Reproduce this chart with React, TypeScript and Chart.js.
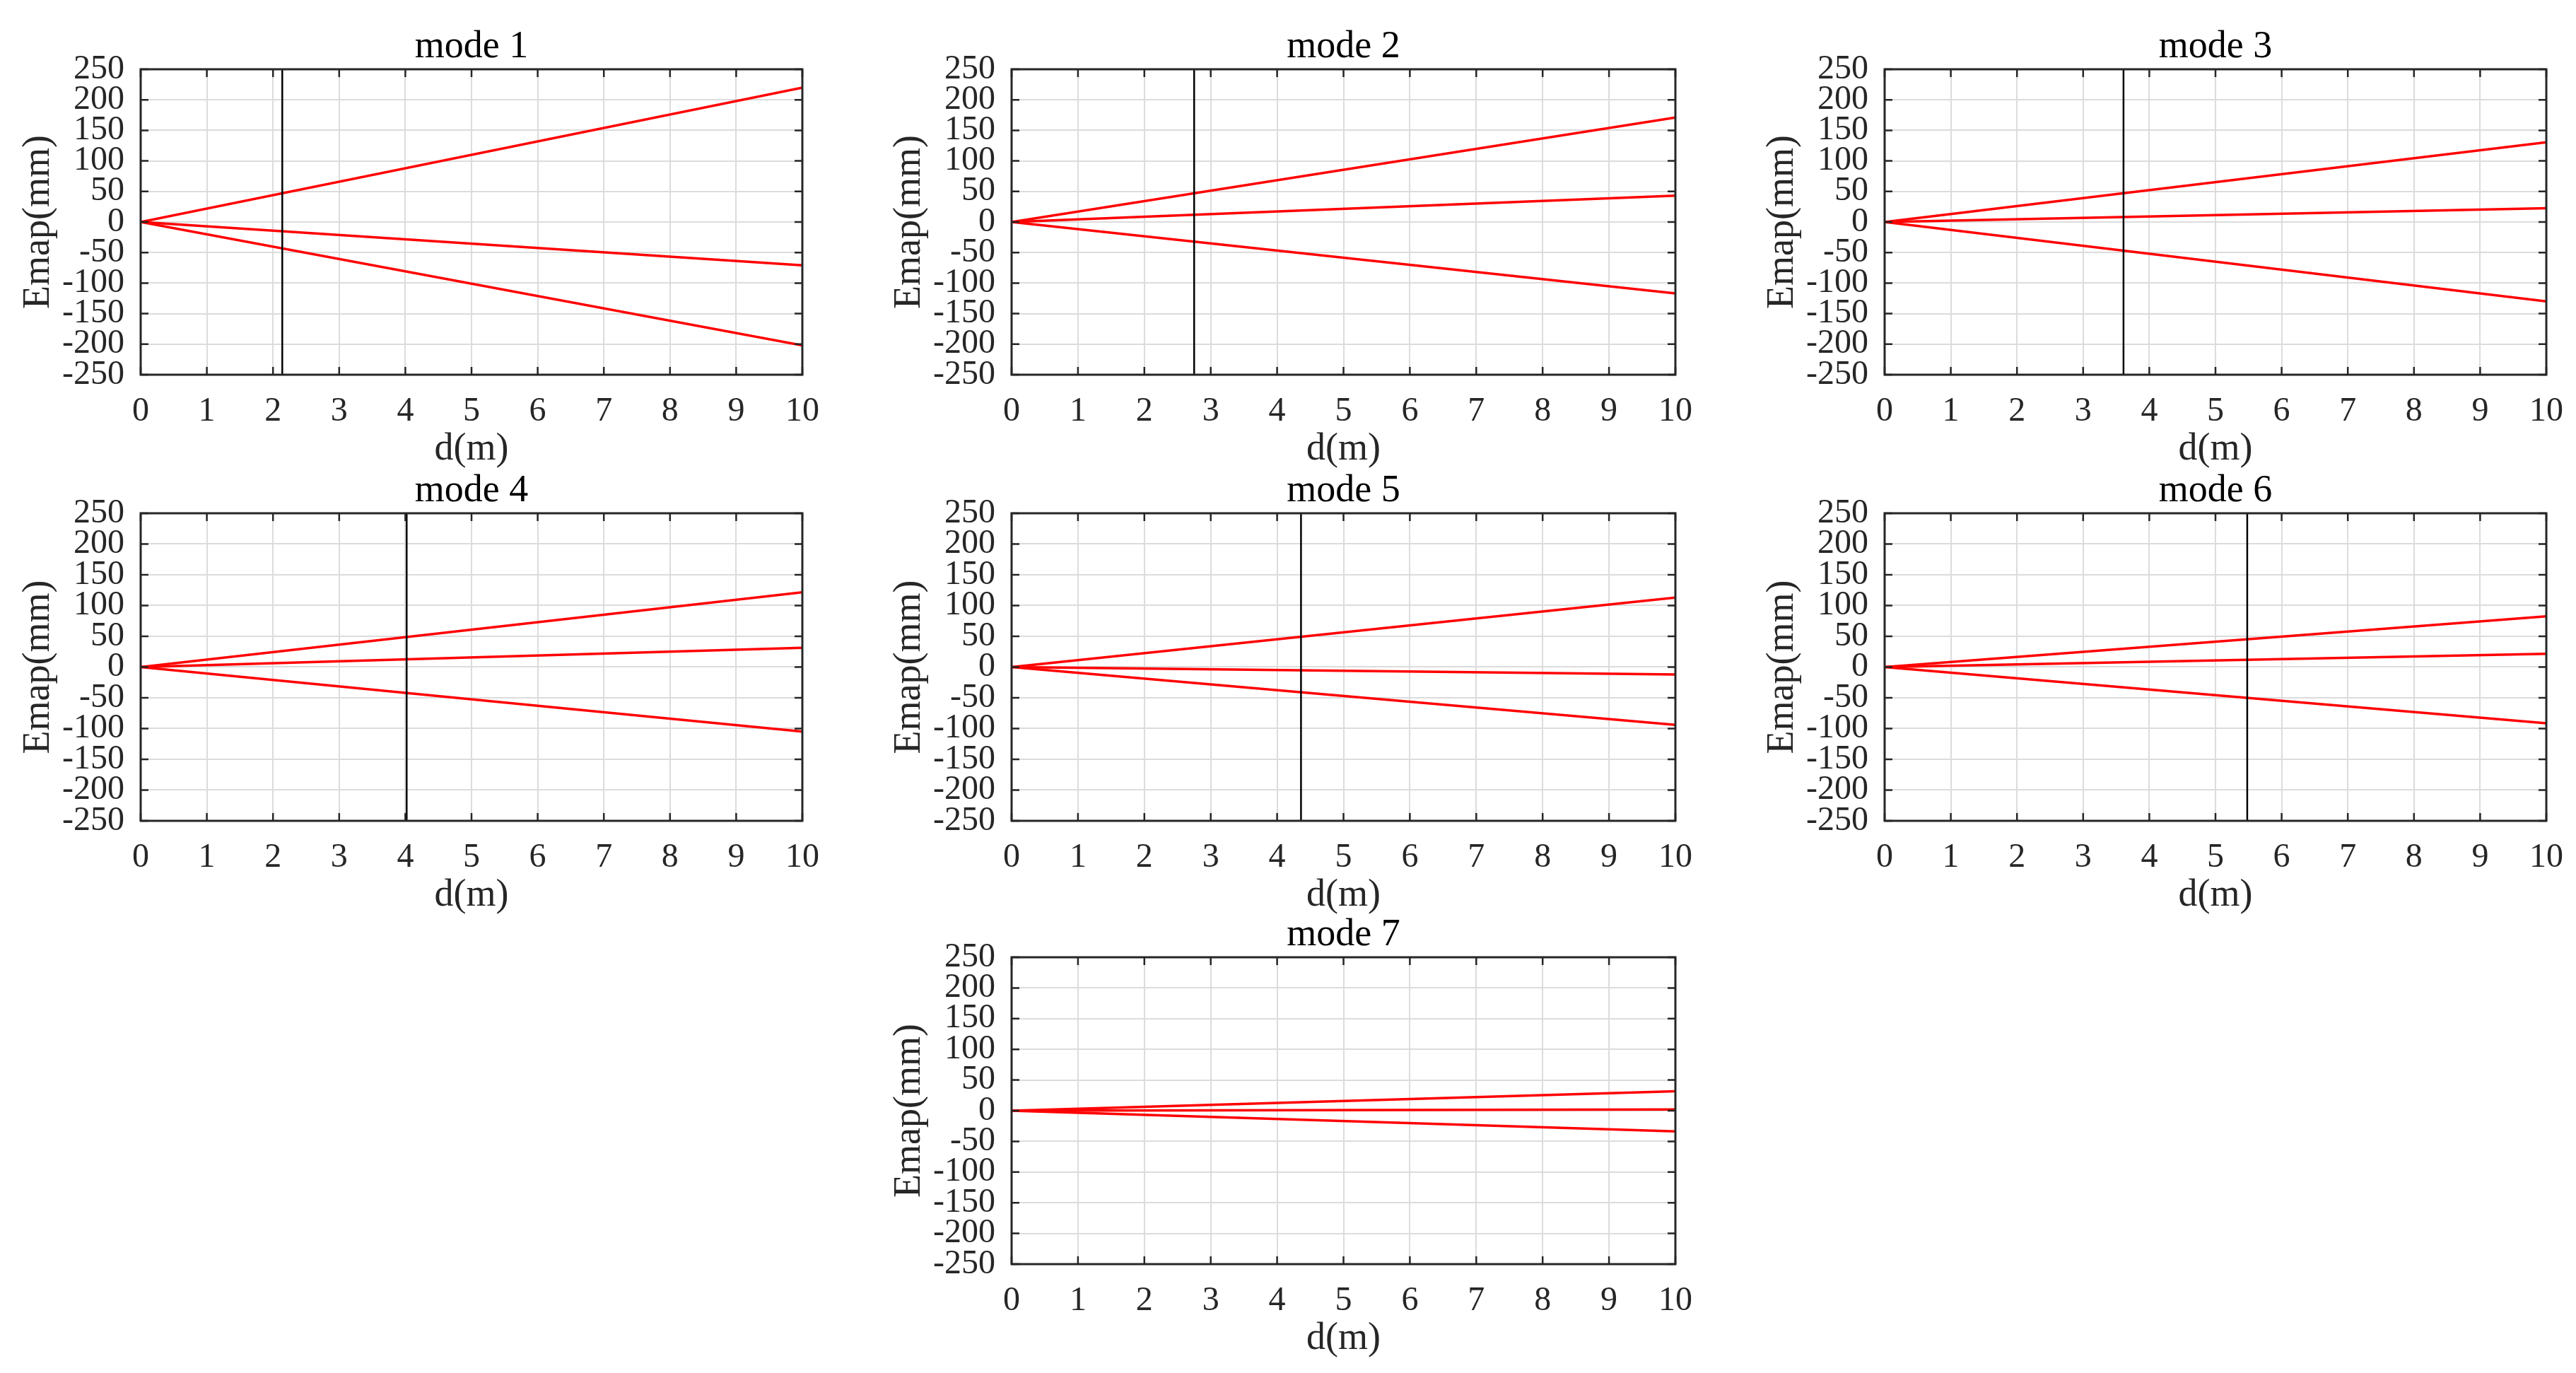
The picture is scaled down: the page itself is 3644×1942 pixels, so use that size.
import React, { useEffect, useRef } from "react";
import { Chart, registerables } from "chart.js";

Chart.register(...registerables);

// ---------- data ----------
const modeTitles = ["mode 1", "mode 2", "mode 3", "mode 4", "mode 5", "mode 6", "mode 7"];
const dRange = [0, 10]; // d(m) at start and end of each red line
const upperEnd = [220, 171, 130.5, 121.5, 113, 82.4, 31.8];
const middleEnd = [-71, 43, 22.5, 31.4, -12, 21.4, 2];
const lowerEnd = [-202, -117, -130, -105, -94, -91.5, -33.6];
const startValue = [0, 0, 0, 0, 0, 0, 0];
const markerD: (number | null)[] = [2.14, 2.75, 3.61, 4.02, 4.36, 5.48, null];
const yLimits = [-250, 250];
const xTickStep = 1;
const yTickStep = 50;

// ---------- layout (pixels) ----------
const colLeft = [199, 1431, 2666];
const colWidth = [936, 939, 936];
const rowTop = [98, 726, 1354];
const rowHeight = [432, 435, 434];
const panelPos = [
  [0, 0], [1, 0], [2, 0],
  [0, 1], [1, 1], [2, 1],
  [1, 2],
];

const FONT = "'Liberation Serif', 'Times New Roman', serif";
const LEFT_W = 200;
const TOP_H = 98;
const BOTTOM_H = 138;
const RIGHT_PAD = 40;

const boxPlugin = {
  id: "matlabBox",
  afterDraw(chart: any) {
    const { ctx, chartArea } = chart;
    const { left, right, top, bottom } = chartArea;
    const xs = chart.scales.x;
    const ys = chart.scales.y;
    const tl = 11;
    ctx.save();
    ctx.strokeStyle = "#262626";
    ctx.lineWidth = 2.5;
    ctx.beginPath();
    xs.ticks.forEach((t: any) => {
      const px = xs.getPixelForValue(t.value);
      ctx.moveTo(px, bottom);
      ctx.lineTo(px, bottom - tl);
      ctx.moveTo(px, top);
      ctx.lineTo(px, top + tl);
    });
    ys.ticks.forEach((t: any) => {
      const py = ys.getPixelForValue(t.value);
      ctx.moveTo(left, py);
      ctx.lineTo(left + tl, py);
      ctx.moveTo(right, py);
      ctx.lineTo(right - tl, py);
    });
    ctx.stroke();
    ctx.lineWidth = 3;
    ctx.strokeRect(left, top, right - left, bottom - top);
    ctx.restore();
  },
};

function Panel({ i }: { i: number }) {
  const ref = useRef<HTMLCanvasElement>(null);
  const [c, r] = panelPos[i];
  const plotW = colWidth[c];
  const plotH = rowHeight[r];
  const W = LEFT_W + plotW + RIGHT_PAD;
  const H = TOP_H + plotH + BOTTOM_H;
  const left = colLeft[c] - LEFT_W;
  const top = rowTop[r] - TOP_H;

  useEffect(() => {
    if (!ref.current) return;
    const line = (end: number) => [
      { x: dRange[0], y: startValue[i] },
      { x: dRange[1], y: end },
    ];
    const datasets: any[] = [];
    const m = markerD[i];
    if (m !== null) {
      datasets.push({
        data: [
          { x: m, y: yLimits[0] },
          { x: m, y: yLimits[1] },
        ],
        borderColor: "#000000",
        borderWidth: 2.5,
        pointRadius: 0,
      });
    }
    [upperEnd[i], middleEnd[i], lowerEnd[i]].forEach((v) => {
      datasets.push({
        data: line(v),
        borderColor: "#ff0000",
        borderWidth: 3.5,
        pointRadius: 0,
      });
    });

    const chart = new Chart(ref.current, {
      type: "line",
      data: { datasets },
      plugins: [boxPlugin],
      options: {
        animation: false,
        responsive: false,
        maintainAspectRatio: false,
        devicePixelRatio: 1,
        layout: { padding: { left: 0, top: 0, right: RIGHT_PAD, bottom: 0 } },
        plugins: {
          legend: { display: false },
          tooltip: { enabled: false },
          title: {
            display: true,
            text: modeTitles[i],
            fullSize: false,
            color: "#000000",
            font: { family: FONT, size: 54, weight: "normal", lineHeight: 1.17 },
            padding: { top: 34.8, bottom: 0 },
          },
        },
        scales: {
          x: {
            type: "linear",
            min: dRange[0],
            max: dRange[1],
            ticks: {
              stepSize: xTickStep,
              autoSkip: false,
              color: "#262626",
              padding: 24,
              maxRotation: 0,
              font: { family: FONT, size: 48, lineHeight: 1.2 },
            },
            grid: { color: "#dcdcdc", lineWidth: 2, drawTicks: false },
            border: { display: false },
            title: {
              display: true,
              text: "d(m)",
              color: "#262626",
              font: { family: FONT, size: 54, lineHeight: 1.2 },
              padding: { top: 0, bottom: 0 },
            },
            afterFit: (scale: any) => {
              scale.height = BOTTOM_H;
              scale.paddingLeft = 0;
              scale.paddingRight = 0;
            },
          },
          y: {
            type: "linear",
            min: yLimits[0],
            max: yLimits[1],
            ticks: {
              stepSize: yTickStep,
              autoSkip: false,
              color: "#262626",
              padding: 23,
              font: { family: FONT, size: 48, lineHeight: 1.2 },
            },
            grid: { color: "#dcdcdc", lineWidth: 2, drawTicks: false },
            border: { display: false },
            title: {
              display: true,
              text: "Emap(mm)",
              color: "#262626",
              font: { family: FONT, size: 54, lineHeight: 1.2 },
              padding: { top: 23.6, bottom: 0 },
            },
            afterFit: (scale: any) => {
              scale.width = LEFT_W;
              scale.paddingTop = 0;
              scale.paddingBottom = 0;
            },
          },
        },
      } as any,
    });
    return () => chart.destroy();
  }, [i]);

  return (
    <canvas
      ref={ref}
      width={W}
      height={H}
      style={{ position: "absolute", left, top, width: W, height: H }}
    />
  );
}

export default function App() {
  return (
    <div
      style={{
        position: "absolute",
        left: 0,
        top: 0,
        width: 3644,
        height: 1942,
        background: "#ffffff",
        overflow: "hidden",
      }}
    >
      {modeTitles.map((_, i) => (
        <Panel key={i} i={i} />
      ))}
    </div>
  );
}
